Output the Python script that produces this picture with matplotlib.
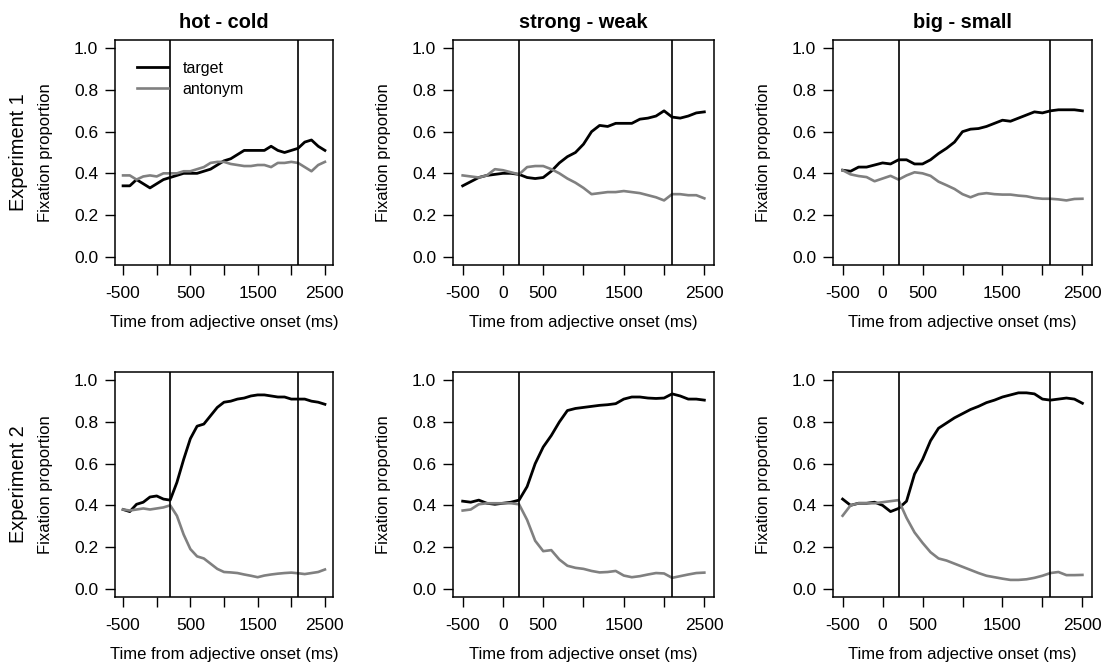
import numpy as np
import matplotlib
matplotlib.use('Agg')
import matplotlib.pyplot as plt
from matplotlib.lines import Line2D

plt.rcParams['font.family'] = ['Liberation Sans', 'DejaVu Sans']

# time axis (ms from adjective onset), 100 ms steps
time_ms = np.arange(-500, 2501, 100)

pairs = ['hot - cold', 'strong - weak', 'big - small']
experiments = ['Experiment 1', 'Experiment 2']

# Experiment 1 -- target / antonym fixation proportions
e1_hot_target = [0.34, 0.34, 0.37, 0.35, 0.33, 0.35, 0.37, 0.38, 0.39, 0.40, 0.40,
                 0.40, 0.41, 0.42, 0.44, 0.46, 0.47, 0.49, 0.51, 0.51, 0.51,
                 0.51, 0.53, 0.51, 0.50, 0.51, 0.52, 0.55, 0.56, 0.53, 0.51]
e1_hot_anton = [0.39, 0.39, 0.37, 0.385, 0.39, 0.385, 0.40, 0.40, 0.40, 0.41, 0.41,
                0.42, 0.43, 0.45, 0.455, 0.455, 0.445, 0.44, 0.435, 0.435, 0.44,
                0.44, 0.43, 0.45, 0.45, 0.455, 0.45, 0.43, 0.41, 0.44, 0.455]
e1_strong_target = [0.34, 0.36, 0.38, 0.39, 0.395, 0.40, 0.40, 0.395, 0.38, 0.375, 0.38,
                    0.41, 0.45, 0.48, 0.50, 0.54, 0.60, 0.63, 0.625, 0.64, 0.64,
                    0.64, 0.66, 0.665, 0.675, 0.70, 0.67, 0.665, 0.675, 0.69, 0.695]
e1_strong_anton = [0.39, 0.385, 0.38, 0.39, 0.42, 0.415, 0.405, 0.395, 0.43, 0.435, 0.435,
                   0.42, 0.40, 0.375, 0.355, 0.33, 0.30, 0.305, 0.31, 0.31, 0.315,
                   0.31, 0.305, 0.295, 0.285, 0.27, 0.30, 0.30, 0.295, 0.295, 0.28]
e1_big_target = [0.415, 0.41, 0.43, 0.43, 0.44, 0.45, 0.445, 0.465, 0.465, 0.445, 0.445,
                 0.465, 0.495, 0.52, 0.55, 0.60, 0.612, 0.615, 0.625, 0.64, 0.655,
                 0.65, 0.665, 0.68, 0.695, 0.69, 0.70, 0.705, 0.705, 0.705, 0.70]
e1_big_anton = [0.415, 0.395, 0.387, 0.382, 0.362, 0.375, 0.388, 0.37, 0.39, 0.405, 0.40,
                0.388, 0.36, 0.343, 0.325, 0.30, 0.285, 0.30, 0.305, 0.30, 0.298,
                0.298, 0.293, 0.29, 0.282, 0.278, 0.278, 0.275, 0.27, 0.277, 0.278]

# Experiment 2
e2_hot_target = [0.38, 0.37, 0.405, 0.415, 0.44, 0.445, 0.43, 0.425, 0.51, 0.62, 0.72,
                 0.78, 0.79, 0.83, 0.87, 0.895, 0.90, 0.91, 0.915, 0.925, 0.93,
                 0.93, 0.925, 0.92, 0.92, 0.91, 0.91, 0.91, 0.90, 0.895, 0.885]
e2_hot_anton = [0.38, 0.375, 0.38, 0.385, 0.38, 0.385, 0.39, 0.40, 0.35, 0.26, 0.19,
                0.155, 0.145, 0.12, 0.095, 0.08, 0.078, 0.075, 0.068, 0.062, 0.055,
                0.063, 0.068, 0.072, 0.075, 0.077, 0.074, 0.07, 0.075, 0.08, 0.092]
e2_strong_target = [0.42, 0.415, 0.425, 0.41, 0.405, 0.41, 0.415, 0.425, 0.49, 0.60, 0.68,
                    0.735, 0.80, 0.855, 0.865, 0.87, 0.875, 0.88, 0.883, 0.888, 0.91,
                    0.92, 0.92, 0.915, 0.913, 0.915, 0.935, 0.925, 0.91, 0.91, 0.905]
e2_strong_anton = [0.375, 0.38, 0.405, 0.41, 0.41, 0.41, 0.41, 0.405, 0.33, 0.23, 0.18,
                   0.185, 0.14, 0.11, 0.10, 0.095, 0.085, 0.078, 0.08, 0.085, 0.063,
                   0.055, 0.06, 0.068, 0.075, 0.073, 0.052, 0.06, 0.068, 0.075, 0.077]
e2_big_target = [0.43, 0.40, 0.41, 0.41, 0.415, 0.40, 0.37, 0.385, 0.42, 0.55, 0.62,
                 0.71, 0.77, 0.795, 0.82, 0.84, 0.86, 0.875, 0.893, 0.905, 0.92,
                 0.93, 0.94, 0.94, 0.935, 0.91, 0.905, 0.91, 0.915, 0.91, 0.89]
e2_big_anton = [0.35, 0.40, 0.41, 0.41, 0.41, 0.415, 0.42, 0.425, 0.34, 0.27, 0.22,
                0.175, 0.145, 0.135, 0.12, 0.105, 0.09, 0.075, 0.062, 0.055, 0.048,
                0.042, 0.042, 0.045, 0.052, 0.062, 0.075, 0.08, 0.065, 0.065, 0.066]

targets = [[e1_hot_target, e1_strong_target, e1_big_target],
           [e2_hot_target, e2_strong_target, e2_big_target]]
antonyms = [[e1_hot_anton, e1_strong_anton, e1_big_anton],
            [e2_hot_anton, e2_strong_anton, e2_big_anton]]

# region markers (ms)
markers = [200, 2100]

xticks = [-500, 0, 500, 1000, 1500, 2000, 2500]
xlabels_narrow = ['-500', '', '500', '', '1500', '', '2500']
xlabels_wide = ['-500', '0', '500', '', '1500', '', '2500']

W, H = 1102, 662
fig = plt.figure(figsize=(W / 100, H / 100), dpi=100)

# panel boxes in pixels: (left, right) and (top, bottom)
cols_px = [(115, 333), (453, 714), (833, 1092)]
rows_px = [(40, 265), (372, 597)]

GRAY = '#808080'

for r in range(2):
    top, bot = rows_px[r]
    for c in range(3):
        left, right = cols_px[c]
        ax = fig.add_axes([left / W, 1 - bot / H, (right - left) / W, (bot - top) / H])
        ax.plot(time_ms, targets[r][c], color='black', lw=2.0, solid_joinstyle='round')
        ax.plot(time_ms, antonyms[r][c], color=GRAY, lw=1.9, solid_joinstyle='round')
        for m in markers:
            ax.axvline(m, color='black', lw=1.2)

        ax.set_xlim(-620, 2620)
        ax.set_ylim(-0.04, 1.04)
        ax.set_xticks(xticks)
        ax.set_xticklabels(xlabels_narrow if c == 0 else xlabels_wide)
        ax.set_yticks(np.arange(0, 1.01, 0.2))
        ax.set_yticklabels(['%.1f' % v for v in np.arange(0, 1.01, 0.2)])
        ax.tick_params(direction='out', length=7, width=1, labelsize=12.5, color='black')
        ax.tick_params(axis='x', pad=8)
        ax.tick_params(axis='y', pad=5)
        for sp in ax.spines.values():
            sp.set_linewidth(1.1)

        wpx = right - left
        hpx = bot - top
        ax.set_ylabel('Fixation proportion', fontsize=12)
        ax.yaxis.set_label_coords(-62 / wpx, 0.5)
        ax.set_xlabel('Time from adjective onset (ms)', fontsize=12)
        ax.xaxis.set_label_coords(0.5, -50 / hpx)

        if r == 0:
            ax.set_title(pairs[c], fontsize=14.4, fontweight='bold', pad=9)
        if c == 0:
            fig.text(19 / W, 1 - (top + bot) / 2 / H, experiments[r],
                     rotation=90, ha='center', va='center', fontsize=14.4)
        if r == 0 and c == 0:
            handles = [Line2D([], [], color='black', lw=2.0),
                       Line2D([], [], color=GRAY, lw=1.9)]
            ax.legend(handles, ['target', 'antonym'], loc='upper left',
                      bbox_to_anchor=(22 / wpx, 1 - 21 / hpx), frameon=False,
                      fontsize=11.5, handlelength=1.95, handletextpad=0.9,
                      labelspacing=0.35, borderpad=0, borderaxespad=0)

fig.savefig('out.png', dpi=100)
